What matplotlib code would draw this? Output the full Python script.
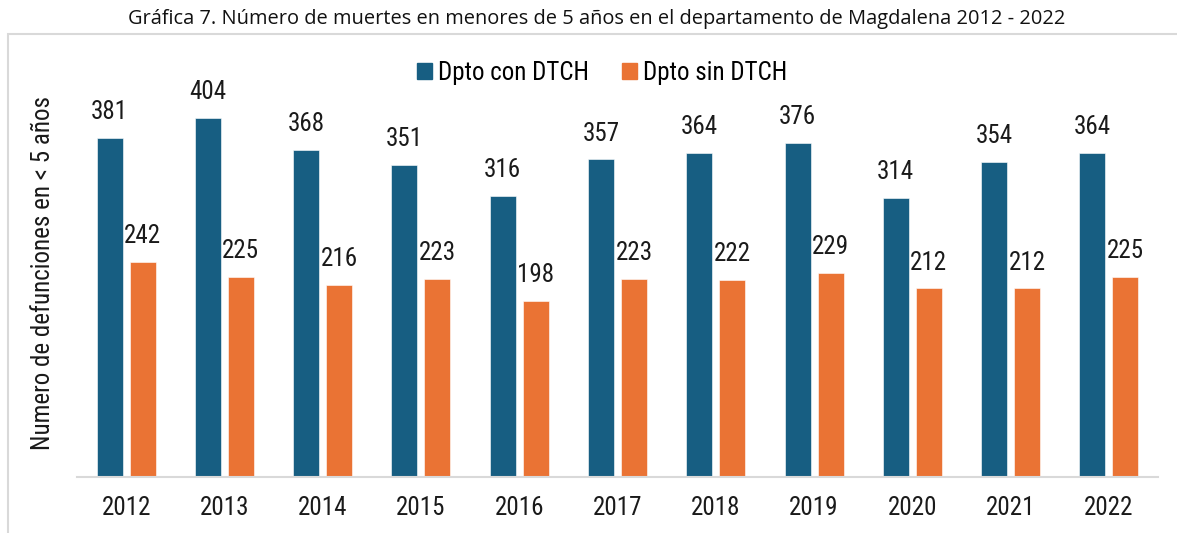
import matplotlib
matplotlib.use("Agg")
import matplotlib.pyplot as plt
import numpy as np
from matplotlib.patches import Rectangle, Patch

# data
years = ["2012", "2013", "2014", "2015", "2016", "2017", "2018", "2019", "2020", "2021", "2022"]
con_dtch = [381, 404, 368, 351, 316, 357, 364, 376, 314, 354, 364]
sin_dtch = [242, 225, 216, 223, 198, 223, 222, 229, 212, 212, 225]
series_names = ["Dpto con DTCH", "Dpto sin DTCH"]
title = "Gráfica 7. Número de muertes en menores de 5 años en el departamento de Magdalena 2012 - 2022"
ylabel = "Numero de defunciones en < 5 años"

BLUE = "#175E82"
ORANGE = "#EA7334"
GRID = "#d9d9d9"
narrow = ["Roboto Condensed", "Liberation Sans", "DejaVu Sans"]

W, H = 1177, 533
fig = plt.figure(figsize=(W / 100, H / 100), dpi=100)

# light gray frame round the chart (runs off right and bottom edges)
fig.patches.append(Rectangle((8 / W, -0.1), 1.2, 1 - 34 / H + 0.1,
                             transform=fig.transFigure, fill=False,
                             edgecolor=GRID, lw=1.5, zorder=0))

fig.text(597 / W, 1 - 19 / H, title, ha="center", va="center",
         fontsize=14.4, family=["Open Sans", "DejaVu Sans"], color="#111111")

ax = fig.add_axes([77 / W, (H - 477) / H, 1081 / W, 427 / H])
x = np.arange(len(years))
bw = 0.265
off = 0.168
b1 = ax.bar(x - off, con_dtch, bw, color=BLUE, edgecolor="white", linewidth=0.4)
b2 = ax.bar(x + off, sin_dtch, bw, color=ORANGE, edgecolor="white", linewidth=0.4)

for bars in (b1, b2):
    for rect in bars:
        v = rect.get_height()
        ax.annotate(f"{v:.0f}", (rect.get_x() + rect.get_width() / 2, v),
                    xytext=(0, 10), textcoords="offset points",
                    ha="center", va="bottom", fontsize=18, family=narrow,
                    color="#1a1a1a")

ax.set_xlim(-0.5, len(years) - 0.5)
ax.set_ylim(0, 480)
ax.set_xticks(x)
ax.set_xticklabels(years, fontsize=18, family=narrow, color="#1a1a1a")
ax.tick_params(axis="x", length=0, pad=14)
ax.set_yticks([])
for s in ("top", "left", "right"):
    ax.spines[s].set_visible(False)
ax.spines["bottom"].set_color(GRID)
ax.spines["bottom"].set_linewidth(1.5)
ax.patch.set_alpha(0)

fig.text(43 / W, 1 - 273 / H, ylabel, rotation=90, ha="center", va="center",
         fontsize=18, family=narrow, color="#1a1a1a")

handles = [Patch(color=BLUE), Patch(color=ORANGE)]
fig.legend(handles, series_names, loc="center", ncol=2,
           bbox_to_anchor=(602 / W, 1 - 73 / H), frameon=False,
           prop={"family": narrow, "size": 18},
           handlelength=0.6, handleheight=0.6, handletextpad=0.25,
           columnspacing=1.3)

fig.savefig("out.png", dpi=100)
